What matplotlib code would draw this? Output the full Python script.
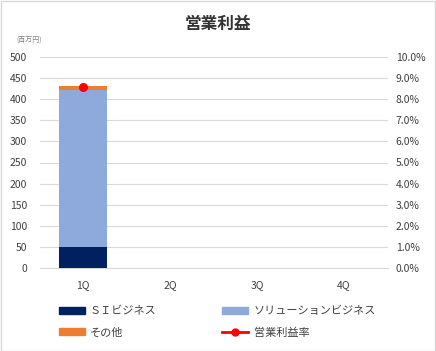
import matplotlib
matplotlib.use("Agg")
import matplotlib.pyplot as plt
from matplotlib.patches import Patch, Rectangle
from matplotlib.lines import Line2D
from matplotlib.ticker import FuncFormatter

plt.rcParams["font.family"] = ["Noto Sans CJK JP", "DejaVu Sans"]

# ── データ ──────────────────────────────
quarters = ["1Q", "2Q", "3Q", "4Q"]
si_biz = [50]              # ＳＩビジネス
solution_biz = [372]       # ソリューションビジネス
other_biz = [10]           # その他
profit_rate = [8.6]        # 営業利益率 (%)

C_SI = "#002060"
C_SOL = "#8EA9DB"
C_OTH = "#ED7D31"
C_RATE = "#FF0000"
GRID = "#D9D9D9"
TXT = "#404040"

W, H = 436, 351
fig = plt.figure(figsize=(W / 100, H / 100), dpi=100)
fig.patches.append(Rectangle((0.5 / W, 0.5 / H), 1 - 1.5 / W, 1 - 1.5 / H,
                             transform=fig.transFigure, fill=False,
                             edgecolor="#D9D9D9", linewidth=1))

ax = fig.add_axes([39.5 / W, (H - 268) / H, 348 / W, 211 / H])
ax2 = ax.twinx()

x = list(range(len(quarters)))
n = len(si_biz)
bw = 0.56
ax.bar(x[:n], si_biz, width=bw, color=C_SI, zorder=3)
ax.bar(x[:n], solution_biz, width=bw, bottom=si_biz, color=C_SOL, zorder=3)
bottom2 = [a + b for a, b in zip(si_biz, solution_biz)]
ax.bar(x[:n], other_biz, width=bw, bottom=bottom2, color=C_OTH, zorder=3)

ax.set_xlim(-0.5, len(quarters) - 0.5)
ax.set_ylim(0, 500)
ax.set_yticks(range(0, 501, 50))
ax.grid(axis="y", color=GRID, linewidth=0.8, zorder=0)
ax.set_xticks(x)
ax.set_xticklabels(quarters)
for a in (ax, ax2):
    for s in a.spines.values():
        s.set_visible(False)
    a.tick_params(length=0, labelsize=7.5, colors=TXT)
ax.spines["bottom"].set_visible(True)
ax.spines["bottom"].set_color(GRID)
ax.tick_params(axis="y", pad=9)
ax.tick_params(axis="x", pad=9)

ax2.set_ylim(0, 10)
ax2.set_yticks(range(0, 11))
ax2.yaxis.set_major_formatter(FuncFormatter(lambda v, p: f"{v:.1f}%"))
ax2.tick_params(axis="y", pad=6)
ax2.plot(x[:n], profit_rate, color=C_RATE, linewidth=2, marker="o",
         markersize=5.5, zorder=5)
ax2.set_zorder(ax.get_zorder() + 1)

fig.text(0.5, (H - 24) / H, "営業利益", ha="center", va="center",
         fontsize=12, fontweight="bold", color="#333333")
fig.text(16 / W, (H - 40) / H, "(百万円)", ha="left", va="center",
         fontsize=5, color="#7F7F7F")

handles = [Patch(color=C_SI), Patch(color=C_OTH), Patch(color=C_SOL),
           Line2D([], [], color=C_RATE, linewidth=2, marker="o", markersize=5)]
labels = ["ＳＩビジネス", "その他", "ソリューションビジネス", "営業利益率"]
leg = fig.legend(handles, labels, ncol=2, loc="upper left",
                 bbox_to_anchor=(49 / W, (H - 296) / H), frameon=False,
                 fontsize=8, handlelength=2.3, handleheight=0.6,
                 handletextpad=0.5, columnspacing=5.9, labelspacing=1.0)
for t in leg.get_texts():
    t.set_color(TXT)

fig.savefig("out.png", dpi=100)
